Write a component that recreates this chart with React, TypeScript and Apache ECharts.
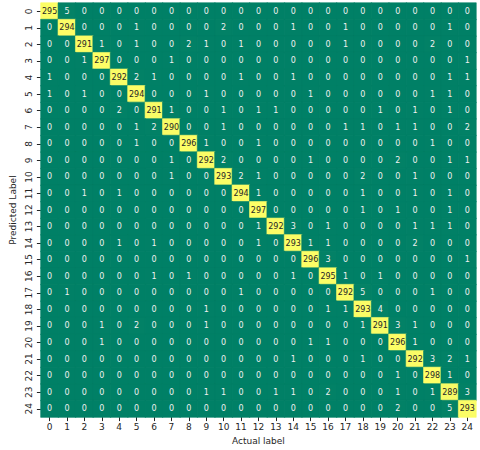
import React, { useEffect, useRef } from "react";
import * as echarts from "echarts";

const labels: string[] = Array.from({ length: 25 }, (_, i) => String(i));

const row0 = [295,5,0,0,0,0,0,0,0,0,0,0,0,0,0,0,0,0,0,0,0,0,0,0,0];
const row1 = [0,294,0,0,0,1,0,0,0,0,2,0,0,0,1,0,0,1,0,0,0,0,0,1,0];
const row2 = [0,0,291,1,0,1,0,0,2,1,0,1,0,0,0,0,0,1,0,0,0,0,2,0,0];
const row3 = [0,0,1,297,0,0,0,1,0,0,0,0,0,0,0,0,0,0,0,0,0,0,0,0,1];
const row4 = [1,0,0,0,292,2,1,0,0,0,0,1,0,0,1,0,0,0,0,0,0,0,0,1,1];
const row5 = [1,0,1,0,0,294,0,0,0,1,0,0,0,0,0,1,0,0,0,0,0,0,1,1,0];
const row6 = [0,0,0,0,2,0,291,1,0,0,1,0,1,1,0,0,0,0,0,1,0,1,0,1,0];
const row7 = [0,0,0,0,0,1,2,290,0,0,1,0,0,0,0,0,0,1,1,0,1,1,0,0,2];
const row8 = [0,0,0,0,0,1,0,0,296,1,0,0,1,0,0,0,0,0,0,0,0,0,1,0,0];
const row9 = [0,0,0,0,0,0,0,1,0,292,2,0,0,0,0,1,0,0,0,0,2,0,0,1,1];
const row10 = [0,0,0,0,0,0,0,1,0,0,293,2,1,0,0,0,0,0,2,0,0,1,0,0,0];
const row11 = [0,0,1,0,1,0,0,0,0,0,0,294,1,0,0,0,0,0,1,0,0,1,0,1,0];
const row12 = [0,0,0,0,0,0,0,0,0,0,0,0,297,0,0,0,0,0,1,0,1,0,0,1,0];
const row13 = [0,0,0,0,0,0,0,0,0,0,0,0,1,292,3,0,1,0,0,0,0,1,1,1,0];
const row14 = [0,0,0,0,1,0,1,0,0,0,0,0,1,0,293,1,1,0,0,0,0,2,0,0,0];
const row15 = [0,0,0,0,0,0,0,0,0,0,0,0,0,0,0,296,3,0,0,0,0,0,0,0,1];
const row16 = [0,0,0,0,0,0,1,0,1,0,0,0,0,0,1,0,295,1,0,1,0,0,0,0,0];
const row17 = [0,1,0,0,0,0,0,0,0,0,0,1,0,0,0,0,0,292,5,0,0,0,1,0,0];
const row18 = [0,0,0,0,0,0,0,0,0,1,0,0,0,0,0,0,1,1,293,4,0,0,0,0,0];
const row19 = [0,0,0,1,0,2,0,0,0,1,0,0,0,0,0,0,0,0,1,291,3,1,0,0,0];
const row20 = [0,0,0,1,0,0,0,0,0,0,0,0,0,0,0,1,1,0,0,0,296,1,0,0,0];
const row21 = [0,0,0,0,0,0,0,0,0,0,0,0,0,0,1,0,0,0,1,0,0,292,3,2,1];
const row22 = [0,0,0,0,0,0,0,0,0,0,0,0,0,0,0,0,0,0,0,0,1,0,298,1,0];
const row23 = [0,0,0,0,0,0,0,0,0,1,1,0,0,1,1,0,2,0,0,0,1,0,1,289,3];
const row24 = [0,0,0,0,0,0,0,0,0,0,0,0,0,0,0,0,0,0,0,0,2,0,0,5,293];

const rows = [row0,row1,row2,row3,row4,row5,row6,row7,row8,row9,row10,row11,row12,
  row13,row14,row15,row16,row17,row18,row19,row20,row21,row22,row23,row24];

const FONT = "DejaVu Sans";
const VMAX = 298;

function summer(v: number): string {
  const t = Math.max(0, Math.min(1, v / VMAX));
  const r = Math.round(255 * t);
  const g = Math.round(255 * (0.5 + 0.5 * t));
  const b = 102;
  return `rgb(${r},${g},${b})`;
}

export default function App() {
  const ref = useRef<HTMLDivElement>(null);
  useEffect(() => {
    if (!ref.current) return;
    const chart = echarts.init(ref.current, null, { renderer: "svg" });
    const data: any[] = [];
    rows.forEach((r, y) => {
      r.forEach((v, x) => {
        const c = summer(v);
        data.push({
          value: [x, y, v],
          itemStyle: { borderColor: c, borderWidth: 0.6 },
          label: { color: v > 150 ? "#262626" : "#f0f0f0" },
        });
      });
    });
    chart.setOption({
      animation: false,
      backgroundColor: "#ffffff",
      grid: { left: 32, top: 3, width: 444, height: 416 },
      xAxis: {
        type: "category",
        data: labels,
        position: "bottom",
        axisLine: { show: false },
        axisTick: { show: true, length: 4, alignWithLabel: true, lineStyle: { color: "#262626" } },
        axisLabel: { fontSize: 9, color: "#262626", margin: 5, fontFamily: FONT, interval: 0 },
        splitLine: { show: false },
        name: "Actual label",
        nameLocation: "middle",
        nameGap: 18,
        nameTextStyle: { fontSize: 9, color: "#262626", fontFamily: FONT },
      },
      yAxis: {
        type: "category",
        data: labels,
        inverse: true,
        axisLine: { show: false },
        axisTick: { show: true, length: 4, alignWithLabel: true, lineStyle: { color: "#262626" } },
        axisLabel: { fontSize: 9, color: "#262626", margin: 7, rotate: 90, fontFamily: FONT, interval: 0 },
        splitLine: { show: false },
        name: "Predicted Label",
        nameLocation: "middle",
        nameRotate: 90,
        nameGap: 20,
        nameTextStyle: { fontSize: 9, color: "#262626", fontFamily: FONT },
      },
      visualMap: {
        show: false,
        min: 0,
        max: VMAX,
        dimension: 2,
        inRange: { color: ["#008066", "#ffff66"] },
      },
      series: [
        {
          type: "heatmap",
          data,
          label: { show: true, fontSize: 8, fontFamily: FONT },
          emphasis: { disabled: true },
        },
      ],
    });
    return () => chart.dispose();
  }, []);
  return (
    <div
      ref={ref}
      style={{ position: "fixed", left: 0, top: 0, width: 480, height: 450 }}
    />
  );
}
